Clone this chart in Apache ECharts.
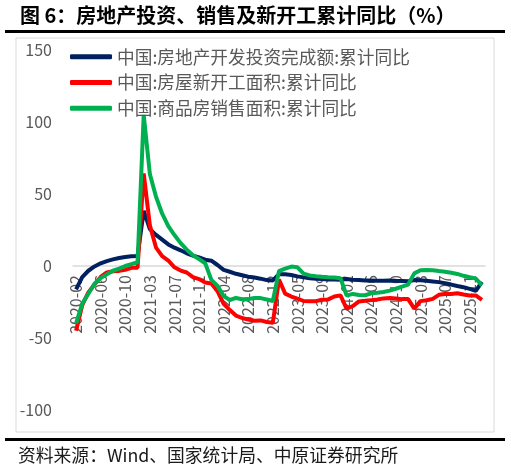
<!DOCTYPE html>
<html lang="zh">
  <head>
    <meta charset="UTF-8" />
    <title>房地产投资、销售及新开工累计同比</title>
    <style>
      html, body { margin: 0; padding: 0; background: #fff; }
      #main { width: 511px; height: 472px; }
    </style>
  </head>
  <body>
    <div id="main"></div>

    <script src="https://cdn.jsdelivr.net/npm/echarts@6.0.0/dist/echarts.min.js"></script>
    <script>
      // 月度累计数据，无1月（1-2月合并）
      const months = [
        '2020-02','2020-03','2020-04','2020-05','2020-06','2020-07','2020-08','2020-09','2020-10','2020-11','2020-12',
        '2021-02','2021-03','2021-04','2021-05','2021-06','2021-07','2021-08','2021-09','2021-10','2021-11','2021-12',
        '2022-02','2022-03','2022-04','2022-05','2022-06','2022-07','2022-08','2022-09','2022-10','2022-11','2022-12',
        '2023-02','2023-03','2023-04','2023-05','2023-06','2023-07','2023-08','2023-09','2023-10','2023-11','2023-12',
        '2024-02','2024-03','2024-04','2024-05','2024-06','2024-07','2024-08','2024-09','2024-10','2024-11','2024-12',
        '2025-02','2025-03','2025-04','2025-05','2025-06','2025-07','2025-08','2025-09','2025-10','2025-11','2025-12',
        '2026-02'
      ]

      // 房地产开发投资完成额:累计同比
      const invest = [
        -16.3, -7.7, -3.3, -0.3, 1.9, 3.4, 4.6, 5.6, 6.3, 6.8, 7.0,
        38.3, 25.6, 21.6, 18.3, 15.0, 12.7, 10.9, 8.8, 7.2, 6.0, 4.4,
        3.7, 0.7, -2.7, -4.0, -5.4, -6.4, -7.4, -8.0, -8.8, -9.8, -10.0,
        -5.7, -5.8, -6.2, -7.2, -7.9, -8.5, -8.8, -9.1, -9.3, -9.4, -9.6,
        -9.0, -9.5, -9.8, -10.1, -10.1, -10.2, -10.2, -10.1, -10.3, -10.4, -10.6,
        -9.8, -9.9, -10.3, -10.7, -11.2, -12.0, -12.9, -13.9, -14.7, -15.9, -17.2,
        -11.0
      ]

      // 房屋新开工面积:累计同比
      const newStarts = [
        -44.9, -27.2, -18.4, -12.8, -7.6, -4.5, -3.6, -3.4, -2.7, -1.3, -1.2,
        64.3, 28.2, 12.8, 6.9, 3.8, -0.9, -3.2, -4.5, -7.7, -9.1, -11.4,
        -12.2, -17.5, -26.3, -30.6, -34.4, -36.1, -37.2, -38.0, -37.8, -38.9, -39.4,
        -9.4, -19.2, -21.2, -22.6, -24.3, -24.5, -24.4, -23.4, -23.2, -21.2, -20.4,
        -29.7, -27.8, -24.6, -24.2, -23.7, -23.2, -22.5, -22.2, -22.6, -23.0, -23.0,
        -29.6, -24.4, -23.8, -22.8, -20.0, -19.4, -19.5, -18.9, -19.8, -20.5, -20.4,
        -23.5
      ]

      // 商品房销售面积:累计同比
      const sales = [
        -39.9, -26.3, -19.3, -12.3, -8.4, -5.8, -3.3, -1.8, 0.0, 1.3, 2.6,
        104.9, 63.8, 48.1, 36.3, 27.7, 21.5, 15.9, 11.3, 7.5, 4.8, 1.9,
        -9.6, -13.8, -20.9, -23.6, -22.2, -23.1, -23.0, -22.2, -22.3, -23.3, -24.3,
        -3.6, -1.8, -0.4, -0.9, -5.3, -6.5, -7.1, -7.5, -7.8, -8.0, -8.5,
        -20.5, -19.4, -20.2, -20.3, -19.0, -18.6, -18.0, -17.1, -15.8, -14.3, -12.9,
        -5.1, -3.0, -2.8, -2.9, -3.5, -4.0, -4.7, -5.5, -6.8, -7.8, -8.7,
        -13.5
      ]

      const seriesNames = ['中国:房地产开发投资完成额:累计同比', '中国:房屋新开工面积:累计同比', '中国:商品房销售面积:累计同比']
      const colors = ['#002060', '#FF0000', '#00B050']
      const yTicks = { min: -100, max: 150, step: 50 }

      const font = '"Noto Sans CJK SC", "Noto Sans", sans-serif'
      let chart = echarts.init(document.getElementById('main'))

      // x轴放在0刻度处：网格高360，0在距底部144处
      const gridTop = 50, gridHeight = 360
      const zeroOffset = gridHeight * (0 - yTicks.min) / (yTicks.max - yTicks.min)

      let option = {
        animation: false,
        textStyle: { fontFamily: font },
        graphic: [
          {
            type: 'text', left: 20, top: 5,
            style: { text: '图 6：房地产投资、销售及新开工累计同比（%）', font: 'bold 20px ' + font, fill: '#000' }
          },
          { type: 'rect', shape: { x: 5, y: 30, width: 500, height: 3 }, style: { fill: '#000' } },
          { type: 'rect', shape: { x: 16, y: 38, width: 478, height: 394 }, style: { fill: 'none', stroke: '#d9d9d9', lineWidth: 1 } },
          { type: 'rect', shape: { x: 5, y: 438, width: 500, height: 3 }, style: { fill: '#000' } },
          {
            type: 'text', left: 18, top: 446,
            style: { text: '资料来源：Wind、国家统计局、中原证券研究所', font: '17.8px ' + font, fill: '#1a1a1a' }
          }
        ],
        legend: {
          orient: 'vertical',
          left: 65,
          top: 43,
          icon: 'roundRect',
          itemWidth: 42,
          itemHeight: 5,
          itemGap: 8,
          textStyle: { fontSize: 17.7, color: '#595959', fontFamily: font },
          data: seriesNames
        },
        grid: { left: 73, top: gridTop, width: 412, height: gridHeight, containLabel: false, outerBoundsMode: 'none' },
        xAxis: {
          type: 'category',
          data: months,
          boundaryGap: true,
          offset: -zeroOffset,
          axisLine: { onZero: false, lineStyle: { color: '#d9d9d9', width: 1.5 } },
          axisTick: { show: false },
          axisLabel: { rotate: 90, interval: 3, fontSize: 16, color: '#595959', margin: 9 }
        },
        yAxis: {
          type: 'value',
          min: yTicks.min,
          max: yTicks.max,
          interval: yTicks.step,
          axisLine: { show: false },
          axisTick: { show: false },
          splitLine: { show: false },
          axisLabel: { fontSize: 16, color: '#595959', margin: 21 }
        },
        series: [invest, newStarts, sales].map((d, i) => ({
          name: seriesNames[i],
          type: 'line',
          data: d,
          symbol: 'none',
          color: colors[i],
          lineStyle: { width: 4, color: colors[i] }
        }))
      }
      chart.setOption(option)
    </script>
  </body>
</html>
